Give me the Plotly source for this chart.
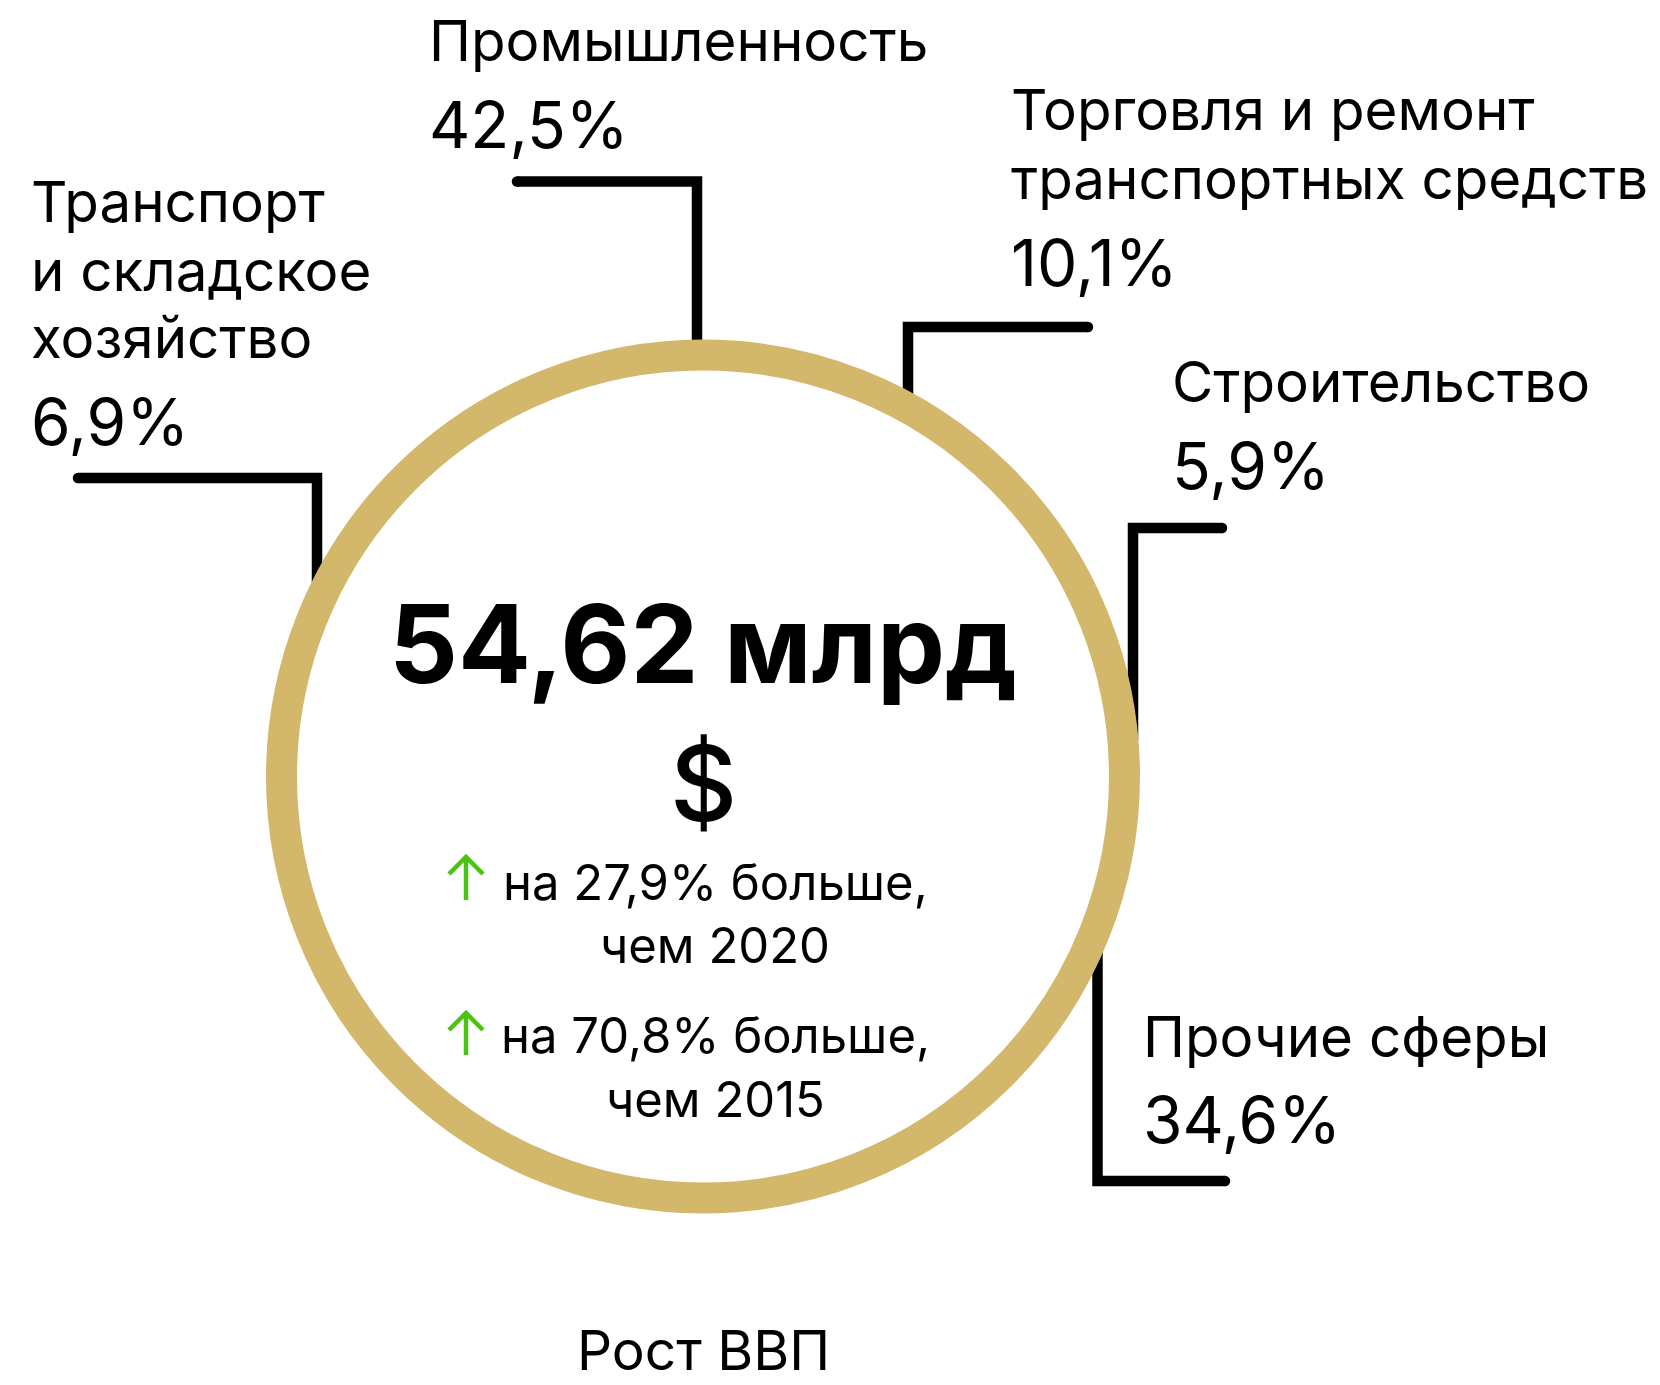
import plotly.graph_objects as go

# ---------------- data ----------------
sectors = [
    "Промышленность",
    "Торговля и ремонт\nтранспортных средств",
    "Строительство",
    "Прочие сферы",
    "Транспорт\nи складское\nхозяйство",
]
shares = [42.5, 10.1, 5.9, 34.6, 6.9]
gdp_total = 54.62
gdp_unit = "млрд"
currency = "$"
growth_pct = [27.9, 70.8]
growth_base_year = [2020, 2015]
title_text = "Рост ВВП"


def fmt(v, d=1):
    return f"{v:.{d}f}".replace(".", ",")


# ---------------- layout / styling ----------------
W, H = 1660, 1385
FONT = "Inter"
INK = "#000000"
GOLD = "#D3B76B"
GREEN = "#4BC314"

LABEL_SIZE = 56.5
VALUE_SIZE = 64
BIG_SIZE = 108
SUB_SIZE = 49
TITLE_SIZE = 55
ASC = 0.364  # baseline -> middle of text box (in em)

# x (left), baselines of name lines, baseline of value  (page pixels)
label_pos = [
    (427, [61], 148),
    (1009, [130, 199], 286),
    (1170, [402], 489),
    (1141, [1057], 1143),
    (29, [222, 291, 358], 445),
]
connectors = [
    [(517, 181.5), (697, 181.5), (697, 370)],
    [(1088, 327), (908, 327), (908, 405)],
    [(1222, 528), (1133, 528), (1133, 740)],
    [(1225, 1181), (1097.5, 1181), (1097.5, 940)],
    [(78, 478), (317, 478), (317, 590)],
]
LW = 10.5
ring_cx, ring_cy, ring_r, ring_w = 703, 776.5, 421.5, 31

fig = go.Figure()
fig.add_trace(go.Scatter(x=[0, W], y=[0, H], mode="markers",
                         marker=dict(opacity=0), hoverinfo="skip", showlegend=False))

shapes = []
for pts in connectors:
    d = "M " + " L ".join(f"{x},{y}" for x, y in pts)
    shapes.append(dict(type="path", path=d, xref="x", yref="y",
                       line=dict(color=INK, width=LW)))
    x0, y0 = pts[0]
    shapes.append(dict(type="circle", xref="x", yref="y",
                       x0=x0 - LW / 2, x1=x0 + LW / 2, y0=y0 - LW / 2, y1=y0 + LW / 2,
                       fillcolor=INK, line=dict(width=0)))
# ring
shapes.append(dict(type="circle", xref="x", yref="y",
                   x0=ring_cx - ring_r, x1=ring_cx + ring_r,
                   y0=ring_cy - ring_r, y1=ring_cy + ring_r,
                   line=dict(color=GOLD, width=ring_w), fillcolor="rgba(0,0,0,0)"))

# green arrows
arrows = [(466, 856, 900), (466, 1012, 1055)]
for ax, tip, bottom in arrows:
    shapes.append(dict(type="path", xref="x", yref="y",
                       path=f"M {ax},{bottom} L {ax},{tip + 1}",
                       line=dict(color=GREEN, width=4.5)))
    shapes.append(dict(type="path", xref="x", yref="y",
                       path=f"M {ax - 17},{tip + 18} L {ax},{tip + 1} L {ax + 17},{tip + 18}",
                       line=dict(color=GREEN, width=4.5)))

annotations = []


def add_text(text, x, baseline, size, xanchor="left", weight=400, color=INK):
    annotations.append(dict(text=text, x=x, y=baseline - ASC * size, xref="x", yref="y",
                            xanchor=xanchor, yanchor="middle", showarrow=False,
                            font=dict(family=FONT, size=size, color=color, weight=weight)))


for name, share, (lx, bls, vb) in zip(sectors, shares, label_pos):
    for line, b in zip(name.split("\n"), bls):
        add_text(line, lx, b, LABEL_SIZE)
    add_text(fmt(share) + "%", lx, vb, VALUE_SIZE)

# center texts
add_text(f"{fmt(gdp_total, 2)} {gdp_unit}", 703, 683, BIG_SIZE, xanchor="center", weight=700)
annotations.append(dict(text=currency, x=703, y=783, xref="x", yref="y", xanchor="center",
                        yanchor="middle", showarrow=False,
                        font=dict(family=FONT, size=104, color=INK, weight=500)))
sub_baselines = [(900, 963), (1053, 1117)]
for pct, yr, (b1, b2) in zip(growth_pct, growth_base_year, sub_baselines):
    add_text(f"на {fmt(pct)}% больше,", 715, b1, SUB_SIZE, xanchor="center")
    add_text(f"чем {yr}", 715, b2, SUB_SIZE, xanchor="center")

# title at the bottom
add_text(title_text, 703, 1370, TITLE_SIZE, xanchor="center")

fig.update_layout(
    width=W, height=H,
    margin=dict(l=0, r=0, t=0, b=0),
    paper_bgcolor="white", plot_bgcolor="white",
    xaxis=dict(range=[0, W], visible=False, fixedrange=True),
    yaxis=dict(range=[H, 0], visible=False, fixedrange=True),
    shapes=shapes, annotations=annotations,
    showlegend=False,
)
fig.write_html(
    "out.html",
    config={"displayModeBar": False},
    post_script="document.body.style.margin='0';document.body.style.overflow='hidden';",
)
